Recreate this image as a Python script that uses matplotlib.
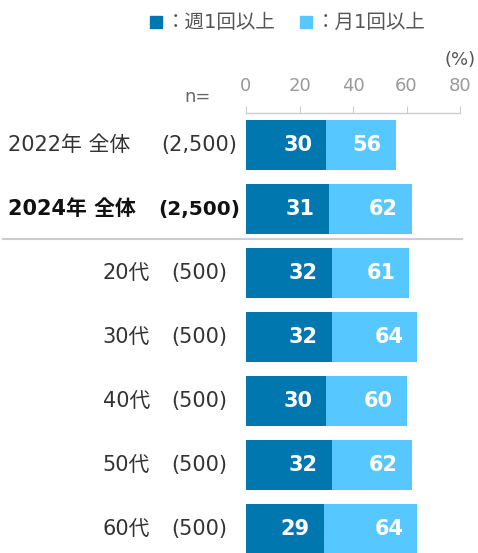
import matplotlib
matplotlib.use('Agg')
import matplotlib.pyplot as plt
from matplotlib.patches import Rectangle

plt.rcParams['font.family'] = ['DejaVu Sans', 'Noto Sans CJK JP']

names = ['2022年 全体', '2024年 全体', '20代', '30代', '40代', '50代', '60代']
counts = ['(2,500)', '(2,500)', '(500)', '(500)', '(500)', '(500)', '(500)']
weekly = [30, 31, 32, 32, 30, 32, 29]
monthly = [56, 62, 61, 64, 60, 62, 64]
ticks = [0, 20, 40, 60, 80]
legend_labels = ['：週1回以上', '：月1回以上']

dark = '#0077AF'
light = '#57C8FF'
text_col = '#333333'

W, H = 478, 553
fig = plt.figure(figsize=(W / 100, H / 100), dpi=100)
ax = fig.add_axes([246 / W, 0, 214 / W, (553 - 113) / H])

ypos = list(range(len(names)))
bh = 0.77
ax.barh(ypos, weekly, height=bh, color=dark, zorder=2)
ax.barh(ypos, [m - w for m, w in zip(monthly, weekly)], left=weekly,
        height=bh, color=light, zorder=2)

for y, w, m in zip(ypos, weekly, monthly):
    ax.annotate(str(w), (w, y), xytext=(-10, 0), textcoords='offset points',
                ha='right', va='center', color='white', fontsize=15,
                fontweight='bold')
    ax.annotate(str(m), (m, y), xytext=(-10, 0), textcoords='offset points',
                ha='right', va='center', color='white', fontsize=15,
                fontweight='bold')

ax.set_xlim(0, 80)
ax.set_ylim(6.375, -0.5)
ax.xaxis.tick_top()
ax.set_xticks(ticks)
ax.tick_params(axis='x', direction='out', length=5, color='#cccccc',
               labelcolor='#999999', labelsize=13, pad=8)
ax.set_yticks([])
for s in ['bottom', 'left', 'right']:
    ax.spines[s].set_visible(False)
ax.spines['top'].set_color('#cccccc')
ax.spines['top'].set_linewidth(1)

# row labels
for i, (nm, c) in enumerate(zip(names, counts)):
    bold = 'bold' if i == 1 else 'normal'
    col = '#111111' if i == 1 else text_col
    if i < 2:
        ax.annotate(nm, (8, i), xycoords=('figure pixels', 'data'),
                    ha='left', va='center', fontsize=15, color=col,
                    fontweight=bold)
    else:
        ax.annotate(nm, (150, i), xycoords=('figure pixels', 'data'),
                    ha='right', va='center', fontsize=15, color=col)
    ax.annotate(c, (199, i), xycoords=('figure pixels', 'data'),
                ha='center', va='center', fontsize=15 if i != 1 else 14.5,
                color=col, fontweight=bold)

# separator between totals and age groups
ax.axhline(1.47, xmin=(3 - 246) / 214, xmax=(462 - 246) / 214,
           color='#cccccc', lw=1.5, clip_on=False)

fig.text(198 / W, 1 - 97 / H, 'n=', ha='center', va='center',
         fontsize=13, color='#666666')
fig.text(445 / W, 1 - 60 / H, '(%)', ha='left', va='center',
         fontsize=13, color='#555555')

# legend
for x0, col, lab in [(150, dark, legend_labels[0]), (300, light, legend_labels[1])]:
    fig.add_artist(Rectangle((x0 / W, 1 - 28 / H), 12 / W, 12 / H,
                             transform=fig.transFigure, color=col))
    fig.text((x0 + 16) / W, 1 - 22 / H, lab, ha='left', va='center',
             fontsize=14, color='#555555')

plt.savefig('out.png', dpi=100)
plt.close()
